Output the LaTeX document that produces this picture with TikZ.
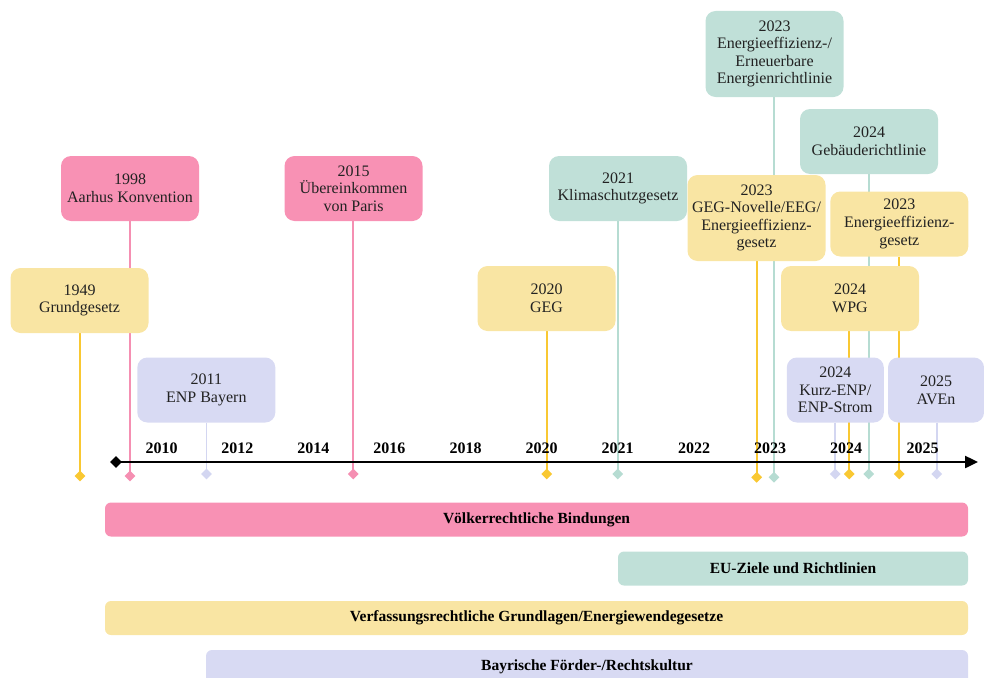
\documentclass[tikz,border=0pt]{standalone}
\usepackage{fontspec}
\setmainfont{Liberation Serif}
\usetikzlibrary{shapes.geometric,arrows.meta,backgrounds}
\definecolor{pinkbox}{HTML}{F891B4}
\definecolor{pinkline}{HTML}{F58FB2}
\definecolor{yelbox}{HTML}{F9E5A3}
\definecolor{yelline}{HTML}{F9C832}
\definecolor{tealbox}{HTML}{C0E0D8}
\definecolor{tealline}{HTML}{B6DCD2}
\definecolor{lavbox}{HTML}{D8DAF3}
\definecolor{lavline}{HTML}{D3D6F1}
\definecolor{txt}{HTML}{222222}
\tikzset{
  evbox/.style={rectangle, rounded corners=10pt, draw=none, inner sep=0pt,
    minimum width=138pt, minimum height=65pt, align=center, text=txt,
    font=\fontsize{16}{17.6}\selectfont},
  tall/.style={minimum height=86pt},
  narrow/.style={minimum width=97pt},
  dmark/.style={diamond, draw=none, inner sep=0pt, minimum width=11pt, minimum height=11pt},
  conn/.style={line width=1.8pt},
  yearlab/.style={font=\fontsize{16}{17.6}\selectfont\bfseries, text=black},
  barbox/.style={rectangle, rounded corners=6pt, draw=none, inner sep=0pt,
    minimum height=34pt, text=black, font=\fontsize{15.5}{17}\selectfont\bfseries},
}
\begin{document}
\begin{tikzpicture}[x=1pt,y=-1pt]
\useasboundingbox (0,0) rectangle (984,677);

% event boxes
\node[evbox, fill=yelbox] (b1949) at (79.5,300.5) {1949\\Grundgesetz};
\node[evbox, fill=pinkbox] (b1998) at (130,188.5) {1998\\Aarhus Konvention};
\node[evbox, fill=lavbox] (b2011) at (206.3,390) {2011\\ENP Bayern};
\node[evbox, fill=pinkbox] (b2015) at (353.5,188.5) {2015\\Übereinkommen\\von Paris};
\node[evbox, fill=yelbox] (b2020) at (546.5,298.5) {2020\\GEG};
\node[evbox, fill=tealbox] (b2021) at (618,188.5) {2021\\Klimaschutzgesetz};
\node[evbox, tall, fill=tealbox] (b2023rl) at (774.5,54) {2023\\Energieeffizienz-/\\Erneuerbare\\Energienrichtlinie};
\node[evbox, fill=tealbox] (b2024geb) at (869,141.5) {2024\\Gebäuderichtlinie};
\node[evbox, tall, fill=yelbox] (b2023geg) at (756.5,218) {2023\\GEG-Novelle/EEG/\\Energieeffizienz-\\gesetz};
\node[evbox, fill=yelbox] (b2023eeg) at (899.3,224) {2023\\Energieeffizienz-\\gesetz};
\node[evbox, fill=yelbox] (b2024wpg) at (850,298.5) {2024\\WPG};
\node[evbox, narrow, fill=lavbox] (b2024enp) at (835.3,390) {2024\\Kurz-ENP/\\ENP-Strom};
\node[evbox, narrow, minimum width=96pt, fill=lavbox] (b2025) at (936,390) {2025\\AVEn};

% markers
\node[dmark, fill=yelline] (m1949) at (80,476) {};
\node[dmark, fill=pinkline] (m1998) at (130,476) {};
\node[dmark, fill=lavline] (m2011) at (206.5,474) {};
\node[dmark, fill=pinkline] (m2015) at (353.3,474) {};
\node[dmark, fill=yelline] (m2020) at (546.7,474) {};
\node[dmark, fill=tealline] (m2021) at (617.7,474) {};
\node[dmark, fill=yelline] (m2023geg) at (756.7,477.3) {};
\node[dmark, fill=tealline] (m2023rl) at (774,477.3) {};
\node[dmark, fill=lavline] (m2024enp) at (835.3,474) {};
\node[dmark, fill=yelline] (m2024wpg) at (849.3,474) {};
\node[dmark, fill=tealline] (m2024geb) at (868.7,474) {};
\node[dmark, fill=yelline] (m2023eeg) at (899.3,474) {};
\node[dmark, fill=lavline] (m2025) at (936.7,474) {};

\begin{scope}[on background layer]
\draw[conn, yelline] (b1949.south -| m1949) -- (m1949.center);
\draw[conn, pinkline] (b1998.south -| m1998) -- (m1998.center);
\draw[conn, lavline] (b2011.south -| m2011) -- (m2011.center);
\draw[conn, pinkline] (b2015.south -| m2015) -- (m2015.center);
\draw[conn, yelline] (b2020.south -| m2020) -- (m2020.center);
\draw[conn, tealline] (b2021.south -| m2021) -- (m2021.center);
\draw[conn, yelline] (b2023geg.south -| m2023geg) -- (m2023geg.center);
\draw[conn, tealline] (b2023rl.south -| m2023rl) -- (m2023rl.center);
\draw[conn, lavline] (b2024enp.south -| m2024enp) -- (m2024enp.center);
\draw[conn, yelline] (b2024wpg.south -| m2024wpg) -- (m2024wpg.center);
\draw[conn, tealline] (b2024geb.south -| m2024geb) -- (m2024geb.center);
\draw[conn, yelline] (b2023eeg.south -| m2023eeg) -- (m2023eeg.center);
\draw[conn, lavline] (b2025.south -| m2025) -- (m2025.center);
\end{scope}

% axis
\node[dmark, fill=black, minimum width=12pt, minimum height=12pt] (axstart) at (116,462) {};
\coordinate (axend) at (978,462);
\draw[line width=2.4pt, -{Triangle[length=13pt,width=12pt]}] (axstart.center) -- (axend);

% year labels
\node[yearlab] (y2010) at (161.7,448) {2010};
\node[yearlab] (y2012) at (237.3,448) {2012};
\node[yearlab] (y2014) at (313.3,448) {2014};
\node[yearlab] (y2016) at (389.3,448) {2016};
\node[yearlab] (y2018) at (465.7,448) {2018};
\node[yearlab] (y2020) at (541.7,448) {2020};
\node[yearlab] (y2021) at (617.7,448) {2021};
\node[yearlab] (y2022) at (694,448) {2022};
\node[yearlab] (y2023) at (770,448) {2023};
\node[yearlab] (y2024) at (846,448) {2024};
\node[yearlab] (y2025) at (922.7,448) {2025};

% bars
\node[barbox, fill=pinkbox, minimum width=863pt] (bar1) at (536.5,519.5) {Völkerrechtliche Bindungen};
\node[barbox, fill=tealbox, minimum width=350pt] (bar2) at (793,568.5) {EU-Ziele und Richtlinien};
\node[barbox, fill=yelbox, minimum width=863pt] (bar3) at (536.5,618) {Verfassungsrechtliche Grundlagen/Energiewendegesetze};
\node[barbox, fill=lavbox, minimum width=762pt] (bar4) at (587,667) {Bayrische Förder-/Rechtskultur};
\end{tikzpicture}
\end{document}
